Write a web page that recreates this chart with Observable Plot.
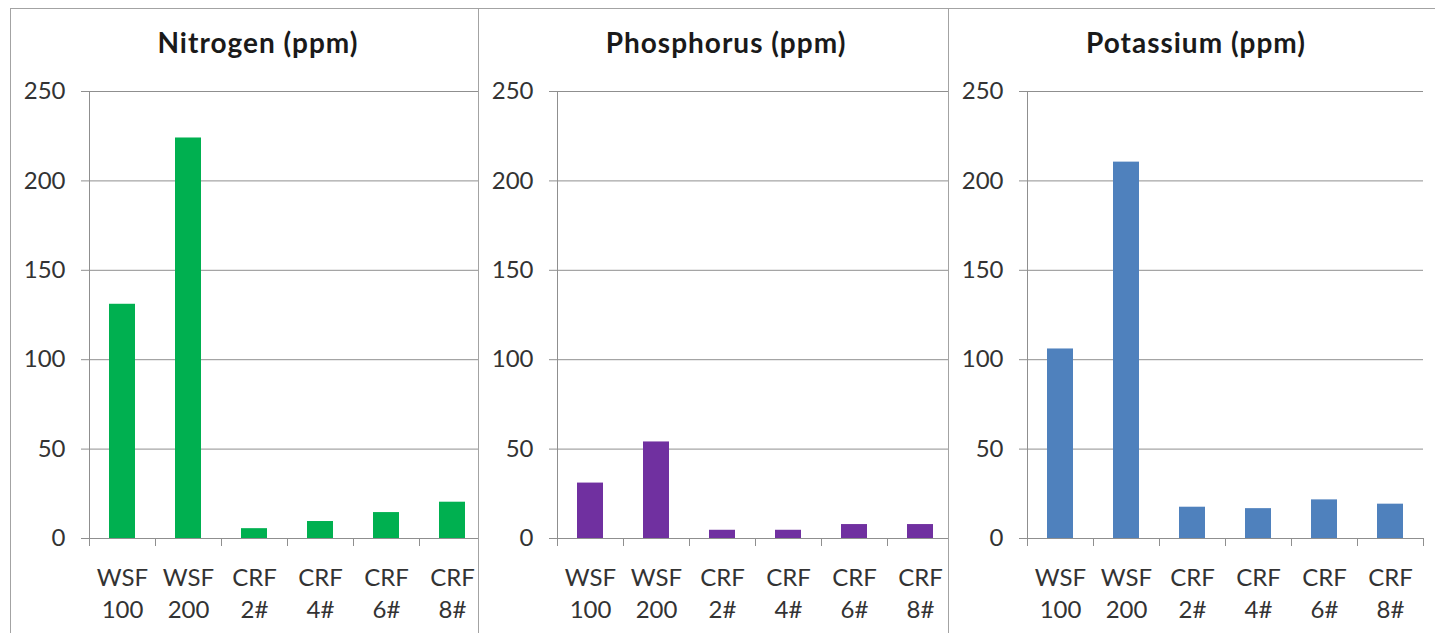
<!DOCTYPE html>
<html>
<head>
<meta charset="utf-8">
<script src="https://cdn.jsdelivr.net/npm/d3@7"></script>
<script src="https://cdn.jsdelivr.net/npm/@observablehq/plot@0.6"></script>
<style>
  html, body { margin: 0; padding: 0; background: #fff; }
  #wrap { position: relative; width: 1435px; height: 633px; overflow: hidden; background: #fff; font-family: Lato, "Open Sans", sans-serif; }
  .panel { position: absolute; top: 8px; height: 700px; border: 1px solid #a3a3a3; background: #fff; }
  .title { position: absolute; top: 19px; transform: translateX(-50%); white-space: nowrap; font: bold 28px/28px Lato, sans-serif; letter-spacing: 1px; color: #1a1a1a; }
  .chart { position: absolute; top: 61px; left: 0; max-width: none !important; }
</style>
</head>
<body>
<div id="wrap"></div>
<script>
const categories = ["WSF\n100", "WSF\n200", "CRF\n2#", "CRF\n4#", "CRF\n6#", "CRF\n8#"];
const nitrogen   = [131, 224, 5.5, 9.5, 14.5, 20.3];
const phosphorus = [31, 54, 4.6, 4.6, 7.8, 7.8];
const potassium  = [106, 210.5, 17.5, 16.7, 21.6, 19.2];
const yTicks = [0, 50, 100, 150, 200, 250];
const titles = ["Nitrogen (ppm)", "Phosphorus (ppm)", "Potassium (ppm)"];
const seriesList = [nitrogen, phosphorus, potassium];
const colors = ["#00B050", "#7030A0", "#4F81BD"];

const panelLefts = [10, 478, 948];
const panelWidths = [468, 469, 500];
const wrap = document.getElementById("wrap");

seriesList.forEach((values, k) => {
  const panel = document.createElement("div");
  panel.className = "panel";
  panel.style.left = panelLefts[k] + "px";
  panel.style.width = panelWidths[k] + "px";

  const data = categories.map((c, i) => ({i, c, v: values[i]}));
  const bounds = d3.range(categories.length + 1);
  const centers = d3.range(categories.length).map(i => i + 0.5);

  const chart = Plot.plot({
    width: 78 + 396 + 10,
    height: 558,
    marginLeft: 78,
    marginRight: 10,
    marginTop: 21,
    marginBottom: 90,
    style: {fontFamily: "Lato, sans-serif", background: "transparent", overflow: "visible", maxWidth: "none"},
    x: {type: "linear", domain: [0, categories.length], axis: null},
    y: {type: "linear", domain: [0, 250], axis: null},
    marks: [
      Plot.gridY(yTicks, {stroke: "#8f8f8f", strokeOpacity: 1, strokeWidth: 1}),
      Plot.ruleX([0], {y1: 0, y2: 250, stroke: "#8f8f8f"}),
      Plot.ruleX(bounds, {y1: 0, y2: 0, insetBottom: -8, stroke: "#8f8f8f"}),
      Plot.rectY(data, {x1: d => d.i, x2: d => d.i + 1, y1: 0, y2: "v", fill: colors[k], insetLeft: 20, insetRight: 20}),
      Plot.axisY(yTicks, {label: null, tickSize: 8, tickPadding: 16, fontSize: 24, stroke: "#8f8f8f", fill: "#333333", tickFormat: d => String(d)}),
      Plot.axisX(centers, {label: null, tickSize: 0, tickPadding: 24, fontSize: 24, lineHeight: 1.35, fill: "#333333", tickFormat: d => categories[Math.floor(d)]})
    ]
  });
  chart.classList.add("chart");
  chart.style.maxWidth = "none";

  const title = document.createElement("div");
  title.className = "title";
  title.style.left = "247px";
  title.textContent = titles[k];

  panel.appendChild(title);
  panel.appendChild(chart);
  wrap.appendChild(panel);
});
</script>
</body>
</html>
